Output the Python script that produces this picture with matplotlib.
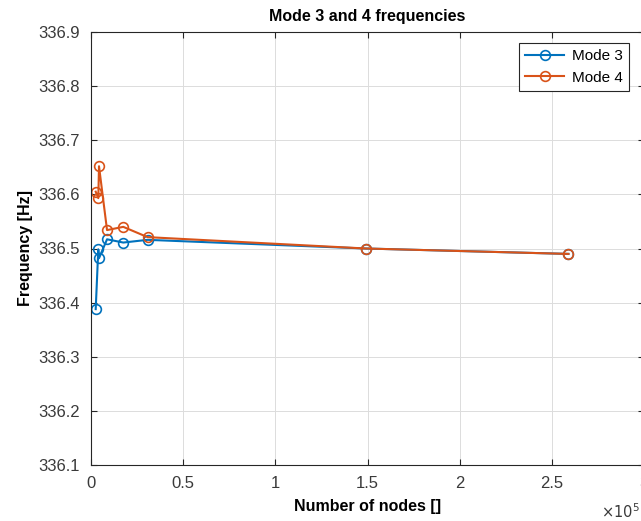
import matplotlib
matplotlib.use("Agg")
import matplotlib.pyplot as plt
from matplotlib.ticker import FuncFormatter, MultipleLocator

plt.rcParams['font.family'] = ['Liberation Sans', 'DejaVu Sans']

nodes = [2550, 3960, 4340, 8700, 17500, 30700, 149000, 259000]
mode3 = [336.388, 336.4985, 336.482, 336.517, 336.511, 336.516, 336.500, 336.490]
mode4 = [336.605, 336.593, 336.652, 336.534, 336.540, 336.521, 336.500, 336.490]
labels = ["Mode 3", "Mode 4"]

W, H = 641, 521
fig = plt.figure(figsize=(W / 100, H / 100), dpi=100)
ax = fig.add_axes([91 / W, (H - 465) / H, 553 / W, 433 / H])

c3 = '#0072BD'
c4 = '#D95319'
ax.plot(nodes, mode3, '-o', color=c3, lw=1.5, ms=7, mfc='none', mew=1.2, label=labels[0])
ax.plot(nodes, mode4, '-o', color=c4, lw=1.5, ms=7, mfc='none', mew=1.2, label=labels[1])

ax.set_xlim(0, 3e5)
ax.set_ylim(336.1, 336.9)
ax.xaxis.set_major_locator(MultipleLocator(0.5e5))
ax.yaxis.set_major_locator(MultipleLocator(0.1))
ax.xaxis.set_major_formatter(FuncFormatter(lambda v, p: f"{v / 1e5:g}"))
ax.yaxis.set_major_formatter(FuncFormatter(lambda v, p: f"{v:.1f}"))

ax.grid(True, color='#dcdcdc', lw=0.7)
ax.set_axisbelow(True)
for s in ax.spines.values():
    s.set_color('#262626')
    s.set_linewidth(0.8)
ax.tick_params(direction='in', length=4, width=0.8, colors='#262626',
               labelsize=12, top=True, right=True, pad=8)
for lbl in ax.get_xticklabels() + ax.get_yticklabels():
    lbl.set_color('#3a3a3a')

ax.set_title("Mode 3 and 4 frequencies", fontsize=11.5, fontweight='bold', pad=8)
ax.set_xlabel("Number of nodes []", fontsize=11.5, fontweight='bold', labelpad=6)
ax.set_ylabel("Frequency [Hz]", fontsize=11.5, fontweight='bold', labelpad=4)

fig.text(601 / W, 1 - 512 / H, r"$\times10^5$", fontsize=10.5, color='#3a3a3a',
         ha='left', va='center')

leg = ax.legend(loc='upper right', bbox_to_anchor=(629 / W, 1 - 43 / H),
                bbox_transform=fig.transFigure, borderaxespad=0, fancybox=False,
                fontsize=11, handlelength=2.6, handletextpad=0.5, framealpha=1,
                edgecolor='#262626')
leg.get_frame().set_linewidth(0.8)

fig.savefig("out.png", dpi=100)
